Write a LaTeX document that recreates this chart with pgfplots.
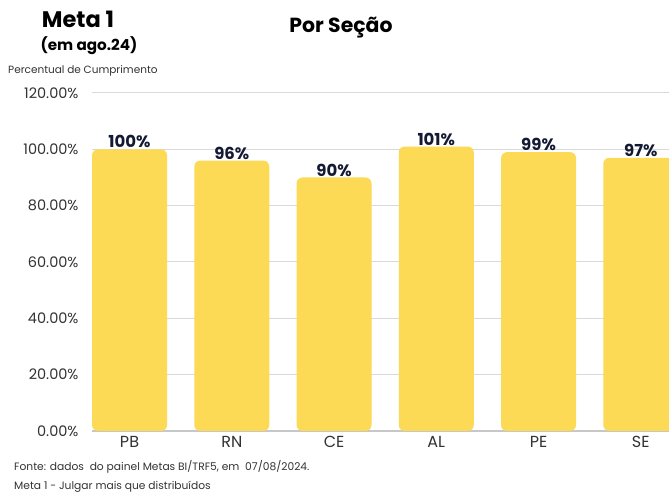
\documentclass[border=0pt]{standalone}
\usepackage{pgfplots}
\pgfplotsset{compat=1.18}
\usepackage{fontspec}
\setmainfont{Poppins}
\definecolor{baryellow}{HTML}{FDDA55}
\definecolor{gridgray}{HTML}{D9D9D9}
\definecolor{labnavy}{HTML}{141A33}
\definecolor{ticktext}{HTML}{333333}
\begin{document}
\begin{tikzpicture}[x=1bp,y=1bp]
\useasboundingbox (0,0) rectangle (669,497);
\fill[white] (0,0) rectangle (669,497);
\begin{axis}[
  at={(92bp,66bp)}, anchor=south west,
  width=577bp, height=338bp, scale only axis,
  ymin=0, ymax=120,
  xmin=-0.367, xmax=5.276,
  ytick={0,20,40,60,80,100,120},
  xtick={0,1,2,3,4,5},
  xticklabels={PB,RN,CE,AL,PE,SE},
  axis x line*=bottom,
  axis y line*=left,
  y axis line style={draw=none},
  x axis line style={draw=gridgray!80!gray, line width=1.2pt, -},
  ymajorgrids,
  grid style={gridgray, line width=1pt},
  major tick length=0pt,
  /pgf/number format/assume math mode=true,
  yticklabel={\pgfmathprintnumber[fixed,fixed zerofill,precision=2]{\tick}\%},
  yticklabel style={font=\fontsize{14.5bp}{16bp}\selectfont, text=ticktext, anchor=east, xshift=-10bp},
  xticklabel style={font=\fontsize{16bp}{18bp}\selectfont, text=ticktext, yshift=-2bp},
  ytick style={draw=none}, xtick style={draw=none},
  ybar, bar width=75bp,
  nodes near coords={\pgfmathprintnumber{\pgfplotspointmeta}\%},
  nodes near coords style={font=\bfseries\fontsize{16.5bp}{18bp}\selectfont, text=labnavy, anchor=south, inner sep=1bp},
  clip=true,
]
\addplot[fill=baryellow, draw=none, rounded corners=6bp] coordinates {(0,100) (1,96) (2,90) (3,101) (4,99) (5,97)};
\end{axis}
\node[anchor=center, font=\bfseries\fontsize{22.5bp}{25bp}\selectfont] at (78,478) {Meta 1};
\node[anchor=center, font=\bfseries\fontsize{15.2bp}{17bp}\selectfont] at (89,451) {(em ago.24)};
\node[anchor=center, font=\bfseries\fontsize{20.4bp}{23bp}\selectfont] at (341,469) {Por Seção};
\node[anchor=west, font=\fontsize{10.5bp}{12bp}\selectfont, text=ticktext, inner sep=0] at (8,426) {Percentual de Cumprimento};
\node[anchor=west, font=\fontsize{10.7bp}{12bp}\selectfont, text=ticktext, inner sep=0] at (14,30) {Fonte: dados\ \ do painel Metas BI/TRF5, em\ \ 07/08/2024.};
\node[anchor=west, font=\fontsize{10.7bp}{12bp}\selectfont, text=ticktext, inner sep=0] at (14,10) {Meta 1 - Julgar mais que distribuídos};
\end{tikzpicture}
\end{document}
